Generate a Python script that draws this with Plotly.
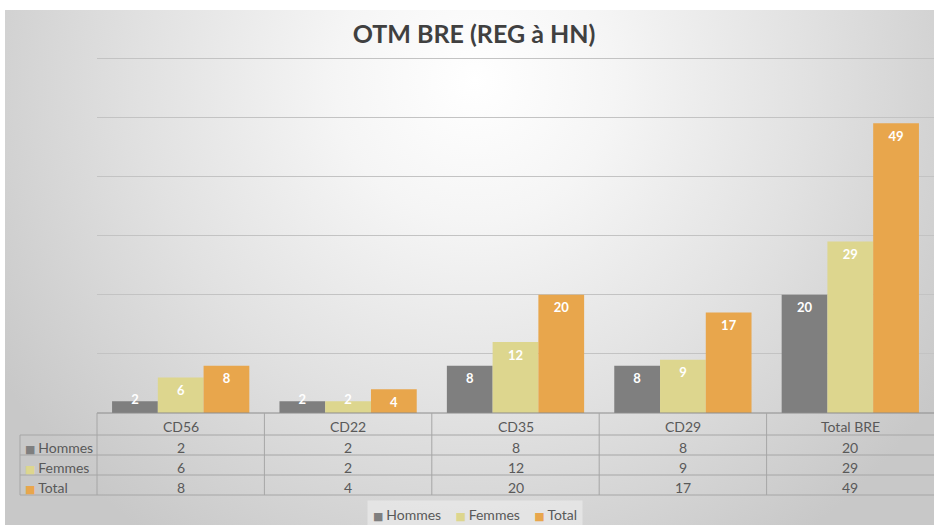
import base64
import plotly.graph_objects as go

categories = ["CD56", "CD22", "CD35", "CD29", "Total BRE"]
series_names = ["Hommes", "Femmes", "Total"]
hommes = [2, 2, 8, 8, 20]
femmes = [6, 2, 12, 9, 29]
total = [8, 4, 20, 17, 49]
colors = ["#7f7f7f", "#ddd68e", "#e8a64c"]
title_text = "OTM BRE (REG à HN)"

W, H = 934, 525
ML, MR, MT, MB = 97, 0, 57, 112
PW = W - ML - MR
PH = H - MT - MB


def px_x(p):
    return (p - ML) / PW


def px_y(p):
    return (H - MB - p) / PH


FONT = "Lato, DejaVu Sans, sans-serif"
TXT = "#595959"
LINE = "#a6a6a6"

fig = go.Figure()
for i, (name, vals, col) in enumerate(zip(series_names, [hommes, femmes, total], colors)):
    fig.add_trace(go.Bar(
        name=name, x=categories, y=vals, marker_color=col,
        marker_line_width=0, offsetgroup=str(i), showlegend=False,
    ))
for i, vals in enumerate([hommes, femmes, total]):
    fig.add_trace(go.Scatter(
        x=categories, y=vals, mode="markers+text", text=[str(v) for v in vals],
        marker=dict(size=11, opacity=0),
        textposition=["bottom center" if v >= 3 else "middle center" for v in vals],
        offsetgroup=str(i), showlegend=False,
        textfont=dict(color="white", size=13, family="Lato, sans-serif", weight="bold"),
        hoverinfo="skip", cliponaxis=False,
    ))

svg = '''<svg xmlns="http://www.w3.org/2000/svg" width="929" height="515" viewBox="0 0 929 515" preserveAspectRatio="none">
<defs><radialGradient id="g" gradientUnits="userSpaceOnUse" cx="470" cy="70" r="560">
<stop offset="0" stop-color="#ffffff"/><stop offset="0.25" stop-color="#f5f5f5"/>
<stop offset="0.6" stop-color="#e1e1e1"/><stop offset="1" stop-color="#c8c8c8"/></radialGradient></defs>
<rect x="0" y="0" width="929" height="515" fill="url(#g)"/></svg>'''
src = "data:image/svg+xml;base64," + base64.b64encode(svg.encode()).decode()

shapes = []
annotations = []

row_tops = [413, 435, 455, 475, 495]
left_lbl = 20
shapes.append(dict(type="line", xref="paper", yref="paper", x0=0, x1=1,
                   y0=0, y1=0, line=dict(color="#8c8c8c", width=1)))
for p in row_tops[1:]:
    shapes.append(dict(type="line", xref="paper", yref="paper", x0=px_x(left_lbl), x1=1,
                       y0=px_y(p), y1=px_y(p), line=dict(color=LINE, width=1)))
shapes.append(dict(type="line", xref="paper", yref="paper", x0=px_x(left_lbl), x1=px_x(left_lbl),
                   y0=px_y(435), y1=px_y(495), line=dict(color=LINE, width=1)))
shapes.append(dict(type="line", xref="paper", yref="paper", x0=0, x1=0,
                   y0=0, y1=px_y(495), line=dict(color=LINE, width=1)))
for i in range(len(categories) - 1):
    shapes.append(dict(type="line", xref="x", yref="paper", x0=i + 0.5, x1=i + 0.5,
                       y0=0, y1=px_y(495), line=dict(color=LINE, width=1)))


def keyed(name, col):
    return f"<span style='color:{col};font-size:11px'>■&nbsp;</span>{name}"


for c in categories:
    annotations.append(dict(x=c, xref="x", y=px_y(426.5), yref="paper", text=c, showarrow=False,
                            font=dict(family=FONT, size=14, color=TXT), xanchor="center", yanchor="middle"))
for r, (name, vals, col) in enumerate(zip(series_names, [hommes, femmes, total], colors)):
    yc = px_y(447.5 + 20 * r)
    annotations.append(dict(x=px_x(23), xref="paper", y=yc, yref="paper",
                            text=keyed(name, col), showarrow=False,
                            font=dict(family=FONT, size=14, color=TXT), xanchor="left", yanchor="middle"))
    for c, v in zip(categories, vals):
        annotations.append(dict(x=c, xref="x", y=yc, yref="paper", text=str(v), showarrow=False,
                                font=dict(family=FONT, size=14, color=TXT), xanchor="center", yanchor="middle"))

legend_text = "&nbsp;&nbsp;&nbsp;&nbsp;".join(keyed(name, col) for name, col in zip(series_names, colors))
annotations.append(dict(x=px_x(475), xref="paper", y=px_y(514), yref="paper", text=legend_text,
                        showarrow=False, font=dict(family=FONT, size=14, color=TXT),
                        xanchor="center", yanchor="middle", bgcolor="rgba(240,240,240,0.55)",
                        borderpad=5))

fig.update_layout(
    width=W, height=H,
    margin=dict(l=ML, r=MR, t=MT, b=MB),
    paper_bgcolor="white", plot_bgcolor="rgba(0,0,0,0)",
    title=dict(text=title_text, x=px_x(474), xref="paper", xanchor="center", y=1 - 34 / H, yanchor="middle",
               font=dict(family="Lato, sans-serif", size=25, color="#404040", weight="bold")),
    barmode="group", bargap=0.18, bargroupgap=0,
    scattermode="group", scattergap=0.18,
    showlegend=False,
    xaxis=dict(showticklabels=False, showgrid=False, zeroline=False, showline=False, ticks=""),
    yaxis=dict(range=[0, 60.2], tickvals=[10, 20, 30, 40, 50, 60], showticklabels=False,
               gridcolor="#c3c3c3", gridwidth=1, zeroline=False, showline=False, ticks=""),
    shapes=shapes, annotations=annotations,
    images=[dict(source=src, xref="paper", yref="paper", x=px_x(5), y=px_y(10),
                 sizex=929 / PW, sizey=515 / PH, xanchor="left", yanchor="top",
                 sizing="stretch", layer="below")],
)

fig.write_html("out.html", config={"displayModeBar": False},
               post_script="document.body.style.margin='0';document.body.style.overflow='hidden';")
